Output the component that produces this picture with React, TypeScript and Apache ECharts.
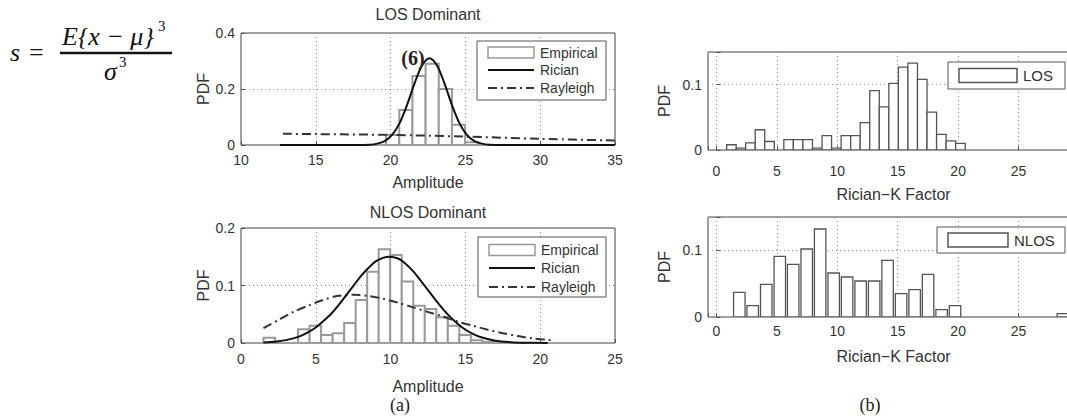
import React, { useEffect, useRef } from "react";
import * as echarts from "echarts";

// ---------- DATA ----------
// (a) top: LOS dominant amplitude histogram
const losAmpBinWidth = 0.88;
const losAmpCenters = [20.14, 21.02, 21.9, 22.78, 23.66, 24.54, 25.42];
const losAmpPdf = [0.036, 0.125, 0.246, 0.29, 0.2, 0.072, 0.01];
const losRicianX = [12.6, 16, 17.6, 18.1, 18.6, 19.1, 19.6, 20.1, 20.6, 21.1, 21.6, 22.1, 22.6, 23.1, 23.6, 24.1, 24.6, 25.1, 25.6, 26.1, 26.6, 27.1, 28, 35];
const losRicianY = [0, 0, 0, 0.0003, 0.001, 0.005, 0.014, 0.036, 0.078, 0.143, 0.22, 0.284, 0.31, 0.284, 0.22, 0.143, 0.078, 0.036, 0.014, 0.005, 0.001, 0.0003, 0, 0];
const losRayleighX = [12.8, 15, 20, 25, 30, 35];
const losRayleighY = [0.04, 0.039, 0.036, 0.03, 0.022, 0.016];

// (a) bottom: NLOS dominant amplitude histogram
const nlosAmpBinWidth = 0.77;
const nlosAmpCenters = [1.89, 4.2, 4.97, 5.74, 6.51, 7.28, 8.05, 8.82, 9.59, 10.36, 11.13, 11.9, 12.67, 13.44, 14.21, 14.98, 15.75, 16.52];
const nlosAmpPdf = [0.009, 0.024, 0.03, 0.014, 0.017, 0.035, 0.075, 0.124, 0.163, 0.153, 0.107, 0.065, 0.059, 0.045, 0.03, 0.014, 0.005, 0.002];
const nlosRicianX = [1.5, 2, 2.5, 3, 3.5, 4, 4.5, 5, 5.5, 6, 6.5, 7, 7.5, 8, 8.5, 9, 9.5, 9.9, 10.5, 11, 11.5, 12, 12.5, 13, 13.5, 14, 14.5, 15, 15.5, 16, 17, 18, 19, 20.5];
const nlosRicianY = [0.001, 0.0017, 0.003, 0.005, 0.008, 0.0125, 0.019, 0.027, 0.038, 0.05, 0.065, 0.082, 0.099, 0.116, 0.13, 0.142, 0.148, 0.15, 0.147, 0.138, 0.125, 0.109, 0.092, 0.075, 0.059, 0.045, 0.033, 0.023, 0.016, 0.0105, 0.004, 0.0015, 0.0005, 0];
const nlosRayleighX = [1.5, 2.5, 3.5, 4.5, 5.5, 6.5, 7.5, 8.5, 9.5, 10.5, 11.5, 12.5, 13.5, 14.5, 15.5, 16.5, 17.5, 18.5, 19.5, 20.7];
const nlosRayleighY = [0.026, 0.04, 0.054, 0.065, 0.075, 0.082, 0.084, 0.082, 0.077, 0.07, 0.062, 0.054, 0.046, 0.037, 0.03, 0.023, 0.017, 0.012, 0.008, 0.005];

// (b) top: LOS Rician-K factor histogram
const losKBinWidth = 0.79;
const losKCenters = [1.24, 2.03, 2.81, 3.6, 4.39, 5.97, 6.76, 7.55, 8.34, 9.13, 9.92, 10.71, 11.5, 12.29, 13.08, 13.87, 14.66, 15.45, 16.24, 17.03, 17.82, 18.61, 19.4, 20.19];
const losKPdf = [0.008, 0.003, 0.011, 0.031, 0.013, 0.016, 0.016, 0.016, 0.003, 0.022, 0.003, 0.022, 0.022, 0.042, 0.091, 0.066, 0.102, 0.127, 0.133, 0.108, 0.058, 0.024, 0.014, 0.01];

// (b) bottom: NLOS Rician-K factor histogram
const nlosKBinWidth = 1.116;
const nlosKCenters = [1.89, 3.0, 4.12, 5.24, 6.35, 7.47, 8.58, 9.7, 10.81, 11.93, 13.05, 14.16, 15.28, 16.4, 17.51, 18.63, 19.74, 28.67];
const nlosKPdf = [0.037, 0.017, 0.049, 0.091, 0.079, 0.102, 0.132, 0.066, 0.06, 0.054, 0.054, 0.085, 0.035, 0.041, 0.064, 0.011, 0.017, 0.005];

// ---------- HELPERS ----------
const SANS = '"Liberation Sans", Arial, Helvetica, sans-serif';
const SERIF = '"Liberation Serif", "Times New Roman", serif';
const TXT = "#333";

const zip = (xs: number[], ys: number[]) => xs.map((x, i) => [x, ys[i]]);
const hist = (centers: number[], vals: number[], w: number) =>
  centers.map((c, i) => [c - w / 2, c + w / 2, vals[i]]);

function histSeries(idx: number, data: number[][], stroke: string, lw: number, inset: number) {
  return {
    type: "custom",
    xAxisIndex: idx,
    yAxisIndex: idx,
    data,
    encode: { x: [0, 1], y: 2 },
    clip: true,
    renderItem: (_p: any, api: any) => {
      const a = api.coord([api.value(0), api.value(2)]);
      const b = api.coord([api.value(1), 0]);
      return {
        type: "rect",
        shape: { x: a[0] + inset, y: a[1], width: b[0] - a[0] - 2 * inset, height: b[1] - a[1] },
        style: { fill: "#fff", stroke, lineWidth: lw },
      };
    },
  };
}

function lineSeries(idx: number, data: number[][], type: any, width: number, color: string) {
  return {
    type: "line",
    xAxisIndex: idx,
    yAxisIndex: idx,
    data,
    symbol: "none",
    smooth: 0.3,
    clip: true,
    lineStyle: { color, width, type },
    z: 5,
  };
}

const splitLine = { show: true, lineStyle: { color: "#999", type: [1, 3], width: 1 } };
const tick = { show: true, inside: true, length: 4, lineStyle: { color: "#555" } };

function xAx(grid: number, min: number, max: number, name: string, margin: number, nameGap: number, labelMax: number, interval?: number) {
  return {
    type: "value",
    gridIndex: grid,
    min,
    max,
    ...(interval ? { interval } : { splitNumber: 6 }),
    axisLine: { show: false },
    axisTick: tick,
    splitLine,
    axisLabel: {
      fontFamily: SANS,
      fontSize: 14,
      color: TXT,
      margin,
      formatter: (v: number) => (Number.isInteger(v) && v <= labelMax ? String(v) : ""),
    },
    name,
    nameLocation: "middle",
    nameGap,
    nameTextStyle: { fontFamily: SANS, fontSize: 16, color: TXT },
  };
}

function yAx(grid: number, max: number, interval: number, nameGap: number) {
  return {
    type: "value",
    gridIndex: grid,
    min: 0,
    max,
    interval,
    axisLine: { show: false },
    axisTick: tick,
    splitLine,
    axisLabel: {
      fontFamily: SANS,
      fontSize: 14,
      color: TXT,
      margin: 6,
      formatter: (v: number) => {
        const r = Math.round(v * 1000) / 1000;
        const k = Math.round(r / interval);
        return Math.abs(k * interval - r) < 1e-9 ? String(r) : "";
      },
    },
    name: "PDF",
    nameLocation: "middle",
    nameRotate: 90,
    nameGap,
    nameTextStyle: { fontFamily: SANS, fontSize: 16, color: TXT },
  };
}

function txt(x: number, y: number, text: string, font: string, align = "left", fill = TXT) {
  return { type: "text", x, y, z: 50, style: { text, font, fill, align, verticalAlign: "middle" } };
}

function legendAmp(x: number, y: number, w: number, rows: number[]) {
  const ix = x + 11;
  const iw = 46;
  const tx = x + 63;
  const f = `14px ${SANS}`;
  return [
    { type: "rect", z: 40, shape: { x, y, width: w, height: rows[3] }, style: { fill: "#fff", stroke: "#555", lineWidth: 1 } },
    { type: "rect", z: 41, shape: { x: ix, y: y + rows[0] - 5.5, width: iw, height: 11 }, style: { fill: "#fff", stroke: "#999", lineWidth: 1.5 } },
    txt(tx, y + rows[0], "Empirical", f),
    { type: "line", z: 41, shape: { x1: ix, y1: y + rows[1], x2: ix + iw, y2: y + rows[1] }, style: { stroke: "#111", lineWidth: 2 } },
    txt(tx, y + rows[1], "Rician", f),
    { type: "line", z: 41, shape: { x1: ix, y1: y + rows[2], x2: ix + iw, y2: y + rows[2] }, style: { stroke: "#333", lineWidth: 2, lineDash: [9, 4, 2, 4] } },
    txt(tx, y + rows[2], "Rayleigh", f),
  ];
}

function legendK(x: number, y: number, w: number, h: number, iw: number, label: string) {
  return [
    { type: "rect", z: 40, shape: { x, y, width: w, height: h }, style: { fill: "#fff", stroke: "#555", lineWidth: 1 } },
    { type: "rect", z: 41, shape: { x: x + 11, y: y + h / 2 - 7, width: iw, height: 14 }, style: { fill: "#fff", stroke: "#555", lineWidth: 1.5 } },
    txt(x + 11 + iw + 6, y + h / 2, label, `15px ${SANS}`),
  ];
}

const gridBase = { show: true, borderColor: "#444", borderWidth: 1, outerBoundsMode: "none", containLabel: false };

export default function App() {
  const ref = useRef<HTMLDivElement>(null);
  useEffect(() => {
    document.body.style.margin = "0";
    document.body.style.overflow = "hidden";
    const chart = echarts.init(ref.current!, null, { renderer: "svg" });
    const option: any = {
      animation: false,
      backgroundColor: "#fff",
      grid: [
        { ...gridBase, left: 241, top: 33, width: 374, height: 112 },
        { ...gridBase, left: 241, top: 228, width: 374, height: 115 },
        { ...gridBase, left: 708, top: 52, width: 371, height: 98 },
        { ...gridBase, left: 708, top: 217, width: 371, height: 100 },
      ],
      xAxis: [
        xAx(0, 10, 35, "Amplitude", 8, 29, 35, 5),
        xAx(1, 0, 25, "Amplitude", 9, 35, 25, 5),
        xAx(2, -0.7, 30, "Rician\u2212K Factor", 14, 36, 25),
        xAx(3, -0.7, 30, "Rician\u2212K Factor", 7, 31, 25),
      ],
      yAxis: [yAx(0, 0.4, 0.2, 23), yAx(1, 0.2, 0.1, 23), yAx(2, 0.15, 0.1, 36), yAx(3, 0.15, 0.1, 36)],
      series: [
        histSeries(0, hist(losAmpCenters, losAmpPdf, losAmpBinWidth), "#999", 2, 0),
        lineSeries(0, zip(losRayleighX, losRayleighY), [9, 4, 2, 4], 2, "#333"),
        lineSeries(0, zip(losRicianX, losRicianY), "solid", 2, "#111"),
        histSeries(1, hist(nlosAmpCenters, nlosAmpPdf, nlosAmpBinWidth), "#999", 2, 0),
        lineSeries(1, zip(nlosRayleighX, nlosRayleighY), [9, 4, 2, 4], 2, "#333"),
        lineSeries(1, zip(nlosRicianX, nlosRicianY), "solid", 2, "#111"),
        histSeries(2, hist(losKCenters, losKPdf, losKBinWidth), "#555", 1.3, 0),
        histSeries(3, hist(nlosKCenters, nlosKPdf, nlosKBinWidth), "#555", 1.3, 1),
      ],
      graphic: [
        txt(428, 14, "LOS Dominant", `16px ${SANS}`, "center"),
        txt(428, 212, "NLOS Dominant", `16px ${SANS}`, "center"),
        ...legendAmp(477, 41, 129, [11.5, 29, 47, 59]),
        ...legendAmp(478, 237, 128, [13, 31, 50, 60]),
        ...legendK(948, 62, 117, 27, 58, "LOS"),
        ...legendK(937, 227, 128, 26, 60, "NLOS"),
        // equation
        txt(10, 52, "s", `italic 26px ${SERIF}`, "left", "#111"),
        txt(29, 52, "=", `26px ${SERIF}`, "left", "#111"),
        txt(62, 36, "E{x \u2212 \u03bc}", `italic 26px ${SERIF}`, "left", "#111"),
        txt(158, 26, "3", `15px ${SERIF}`, "left", "#111"),
        { type: "line", z: 50, shape: { x1: 60, y1: 53, x2: 172, y2: 53 }, style: { stroke: "#111", lineWidth: 2.5 } },
        txt(104, 71, "\u03c3", `italic 26px ${SERIF}`, "left", "#111"),
        txt(119, 62, "3", `15px ${SERIF}`, "left", "#111"),
        txt(413, 58, "(6)", `bold 20px ${SERIF}`, "center", "#222"),
        txt(400, 405, "(a)", `18px ${SERIF}`, "center", "#222"),
        txt(870, 405, "(b)", `18px ${SERIF}`, "center", "#222"),
      ],
    };
    chart.setOption(option);
    return () => chart.dispose();
  }, []);
  return <div ref={ref} style={{ width: 1067, height: 418 }} />;
}
